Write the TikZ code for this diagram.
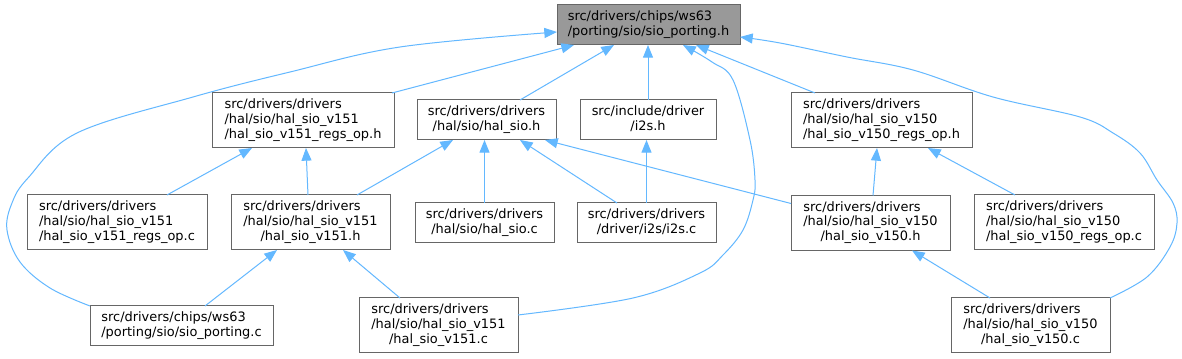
\documentclass[tikz,border=0pt]{standalone}
\usepackage{fontspec}
\setmainfont{DejaVu Sans}
\usetikzlibrary{arrows.meta,calc}
\definecolor{edgeblue}{HTML}{63B8FF}
\definecolor{boxline}{HTML}{666666}
\definecolor{rootfill}{HTML}{999999}
\newcommand\twolines[2]{\begin{tabular}{@{}l@{}}#1\\\multicolumn{1}{@{}c@{}}{#2}\end{tabular}}
\newcommand\threelines[3]{\begin{tabular}{@{}l@{}}#1\\#2\\\multicolumn{1}{@{}c@{}}{#3}\end{tabular}}
\begin{document}
\begin{tikzpicture}[x=0.75pt,y=-0.75pt,
  filebox/.style={draw=boxline,line width=0.75pt,fill=white,inner sep=0pt,outer sep=0pt,
    font=\fontsize{9.7}{11}\selectfont},
  rootbox/.style={filebox,fill=rootfill},
  h2/.style={minimum height=30pt},
  h3/.style={minimum height=41.25pt},
  edge/.style={draw=edgeblue,line width=0.75pt,-{Triangle[length=9.5pt,width=7.5pt,fill=edgeblue]}}]
\useasboundingbox (0,0) rectangle (1182,359);
\fill[white] (0,0) rectangle (1182,359);
% nodes
\node[rootbox,h2,minimum width=137.25pt] (root) at (648.5,25) {\twolines{src/drivers/chips/ws63}{/porting/sio/sio\_porting.h}};
\node[filebox,h3,minimum width=136.5pt] (A) at (303,120.5) {\threelines{src/drivers/drivers}{/hal/sio/hal\_sio\_v151}{/hal\_sio\_v151\_regs\_op.h}};
\node[filebox,h2,minimum width=104.25pt] (B) at (486.5,120) {\twolines{src/drivers/drivers}{/hal/sio/hal\_sio.h}};
\node[filebox,h2,minimum width=102pt] (C) at (648,120) {\twolines{src/include/driver}{/i2s.h}};
\node[filebox,h3,minimum width=135.75pt] (D) at (881.5,120.5) {\threelines{src/drivers/drivers}{/hal/sio/hal\_sio\_v150}{/hal\_sio\_v150\_regs\_op.h}};
\node[filebox,h3,minimum width=135pt] (E) at (117,222.5) {\threelines{src/drivers/drivers}{/hal/sio/hal\_sio\_v151}{/hal\_sio\_v151\_regs\_op.c}};
\node[filebox,h3,minimum width=119.25pt] (F) at (310.5,222.5) {\threelines{src/drivers/drivers}{/hal/sio/hal\_sio\_v151}{/hal\_sio\_v151.h}};
\node[filebox,h2,minimum width=104.25pt] (G) at (484.5,223) {\twolines{src/drivers/drivers}{/hal/sio/hal\_sio.c}};
\node[filebox,h2,minimum width=104.25pt] (H) at (646.5,223) {\twolines{src/drivers/drivers}{/driver/i2s/i2s.c}};
\node[filebox,h3,minimum width=119.25pt] (I) at (870.5,223) {\threelines{src/drivers/drivers}{/hal/sio/hal\_sio\_v150}{/hal\_sio\_v150.h}};
\node[filebox,h3,minimum width=135pt] (J) at (1064,222.5) {\threelines{src/drivers/drivers}{/hal/sio/hal\_sio\_v150}{/hal\_sio\_v150\_regs\_op.c}};
\node[filebox,h2,minimum width=137.25pt] (K) at (181.5,326) {\twolines{src/drivers/chips/ws63}{/porting/sio/sio\_porting.c}};
\node[filebox,h3,minimum width=119.25pt] (L) at (438.5,325.5) {\threelines{src/drivers/drivers}{/hal/sio/hal\_sio\_v151}{/hal\_sio\_v151.c}};
\node[filebox,h3,minimum width=119.25pt] (M) at (1030.5,325.5) {\threelines{src/drivers/drivers}{/hal/sio/hal\_sio\_v150}{/hal\_sio\_v150.c}};
% helper coordinates
\coordinate (rK) at ($(root.west)+(0,7)$);
\coordinate (rM) at ($(root.east)+(0,12)$);
\coordinate (rL) at ($(root.south)+(34.5,0)$);
\coordinate (sL) at ($(L.east)+(0,-10.5)$);
% straight edges
\draw[edge] ($(A.north east)+(-2,0)$) -- ($(root.south)+(-74.5,0)$);
\draw[edge] ($(B.north)+(33.5,0)$) -- ($(root.south)+(-34.5,0)$);
\draw[edge] (C.north) -- (C.north |- root.south);
\draw[edge] ($(D.north)+(-66.5,0)$) -- ($(root.south)+(47.5,0)$);
\draw[edge] ($(E.north)+(50,0)$) -- ($(A.south)+(-51,0)$);
\draw[edge] ($(F.north)+(-2.5,0)$) -- ($(A.south)+(3,0)$);
\draw[edge] ($(F.north)+(46.5,0)$) -- ($(B.south)+(-33.5,0)$);
\draw[edge] (G.north) -- (G.north |- B.south);
\draw[edge] ($(H.north)+(-29.5,0)$) -- ($(B.south)+(33.5,0)$);
\draw[edge] ($(I.north west)+(0,8)$) -- ($(B.south)+(58.5,0)$);
\draw[edge] (H.north) -- (H.north |- C.south);
\draw[edge] ($(I.north)+(2.5,0)$) -- ($(D.south)+(-4.5,0)$);
\draw[edge] ($(J.north)+(-49,0)$) -- ($(D.south)+(46.5,0)$);
\draw[edge] ($(K.north)+(23.5,0)$) -- ($(F.south)+(-33.5,0)$);
\draw[edge] ($(L.north)+(-38.5,0)$) -- ($(F.south)+(32.5,0)$);
\draw[edge] ($(M.north)+(-40.5,0)$) -- ($(I.south)+(41.5,0)$);
% curved edges
\draw[edge] plot[smooth,tension=0.6] coordinates {(K.north west) (50,288) (20,262) (7,230) (12,203) (28,178) (77,133) (193,97) (290,72) (400,47) (rK)};
\draw[edge] plot[smooth,tension=0.6] coordinates {(sL) (633,298) (700,273) (723,255) (743,230) (753,200) (755,180) (750,140) (733,80) (712,62) (rL)};
\draw[edge] plot[smooth,tension=0.6] coordinates {(M.north east) (1147,277) (1170,247) (1177,223) (1173,203) (1157,180) (1140,153) (1113,133) (1080,117) (993,97) (913,70) (847,57) (780,43) (rM)};
\end{tikzpicture}
\end{document}
